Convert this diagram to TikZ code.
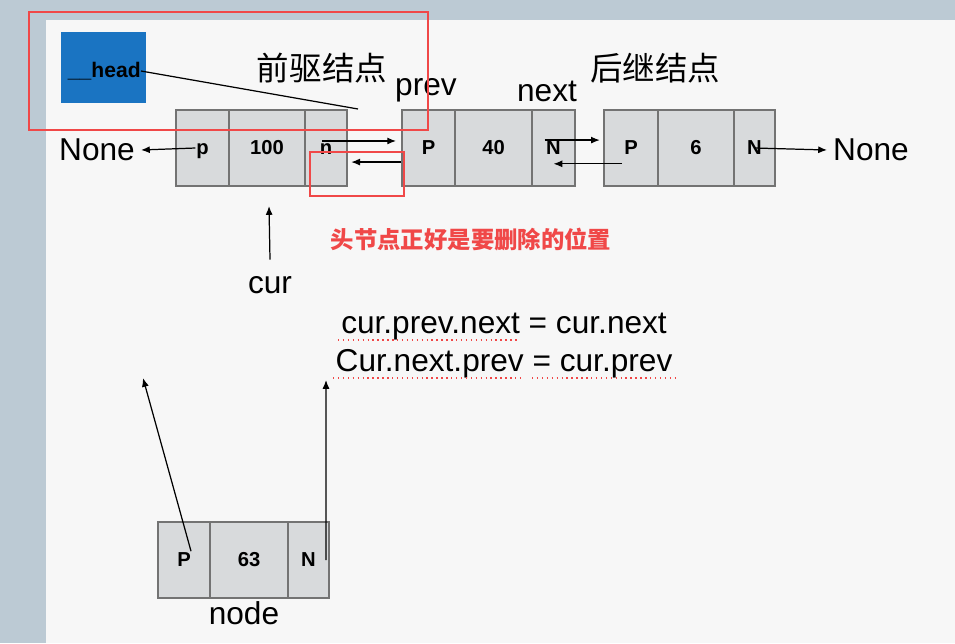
\documentclass[tikz,border=0pt]{standalone}
\usepackage{fontspec}
\setmainfont{Liberation Sans}
\newfontfamily\cjk{Noto Sans CJK SC}
\usetikzlibrary{arrows.meta,calc}
\definecolor{slide}{HTML}{F7F7F7}
\definecolor{frame}{HTML}{BCCAD4}
\definecolor{cellfill}{HTML}{D8DADC}
\definecolor{headblue}{HTML}{1A74C2}
\definecolor{redmark}{HTML}{F04848}
\tikzset{
  cell/.style={draw=black!55, fill=cellfill, line width=0.8pt, minimum height=1.52cm,
    inner sep=0pt, text height=1.4ex, text depth=0pt, font=\bfseries\fontsize{11.5}{13}\selectfont},
  ptr/.style={line width=0.7pt, -{Latex[length=5pt,width=4pt]}},
  lbl/.style={font=\fontsize{18}{21}\selectfont},
  title/.style={font=\cjk\fontsize{18.5}{21}\selectfont}
}
\begin{document}
\begin{tikzpicture}[x=0.02cm,y=-0.02cm]
\useasboundingbox (0,0) rectangle (955,643);
\fill[frame] (0,0) rectangle (955,643);
\fill[slide] (46,20) rectangle (955,643);
% head box
\node[fill=headblue, minimum width=1.7cm, minimum height=1.42cm, inner sep=0pt] (head) at (103.5,67.5) {};
\node[font=\bfseries\fontsize{12}{14}\selectfont, anchor=east, inner sep=0pt] (headtxt) at (141,71) {\_\_head};
% first node (cur)
\node[cell, minimum width=1.06cm] (p1) at (202.5,148) {p};
\node[cell, minimum width=1.52cm] (v1) at (267,148) {100};
\node[cell, minimum width=0.84cm] (n1) at (326,148) {n};
% second node
\node[cell, minimum width=1.06cm] (p2) at (428.5,148) {P};
\node[cell, minimum width=1.54cm] (v2) at (493.5,148) {40};
\node[cell, minimum width=0.86cm] (n2) at (553.5,148) {N};
% third node
\node[cell, minimum width=1.08cm] (p3) at (631,148) {P};
\node[cell, minimum width=1.52cm] (v3) at (696,148) {6};
\node[cell, minimum width=0.82cm] (n3) at (754.5,148) {N};
% new node
\node[cell, minimum width=1.04cm] (p4) at (184,560) {P};
\node[cell, minimum width=1.56cm] (v4) at (249,560) {63};
\node[cell, minimum width=0.82cm] (n4) at (308.5,560) {N};
% labels
\node[lbl] (none1) at (97,150) {None};
\node[lbl] (none2) at (871,150) {None};
\node[title] (pre) at (322,68) {前驱结点};
\node[title] (suc) at (655,68) {后继结点};
\node[lbl] (prev) at (426,90) {prev};
\node[lbl] (next) at (547,91) {next};
\node[lbl] (cur) at (270,285) {cur};
\node[lbl] (nodetxt) at (244,613) {node};
\node[font=\cjk\bfseries\fontsize{13.3}{15}\selectfont, text=redmark] (note) at (471,240) {头节点正好是要删除的位置};
\node[lbl] (eq1) at (504,327) {cur.prev.next = cur.next};
\node[lbl] (eq2) at (504,364) {Cur.next.prev = cur.prev};
\draw[redmark, dotted, line width=0.8pt] (338,340) -- (518,340);
\draw[redmark, dotted, line width=0.8pt] (333,378) -- (521,378);
\draw[redmark, dotted, line width=0.8pt] (532,378) -- (678,378);
% highlight boxes
\draw[redmark, line width=0.6pt] (29,12) rectangle (428,130);
\draw[redmark, line width=0.6pt] (310,152) rectangle (404,196);
% pointers
\coordinate (hend) at (358,109);
\draw[line width=0.7pt] (headtxt.east) -- (hend);
\draw[ptr] ([xshift=-4pt]p1.center) -- (none1.east);
\draw[ptr] ([yshift=4pt,xshift=-2pt]n1.center) -- ([yshift=4pt,xshift=-3pt]p2.west);
\draw[ptr] ([yshift=-8pt]p2.west) -- ([yshift=-8pt,xshift=2pt]n1.east);
\draw[ptr] ([yshift=4.5pt,xshift=-5pt]n2.center) -- ([yshift=4.5pt,xshift=-2pt]p3.west);
\draw[ptr] ([yshift=-9pt,xshift=-5pt]p3.center) -- ([yshift=-9pt]n2.center);
\draw[ptr] (n3.center) -- (none2.west);
\coordinate (curtip) at (269,206);
\draw[ptr] ([yshift=6pt]cur.north) -- (curtip);
\coordinate (ptip) at (143,378);
\draw[ptr] ([xshift=4pt,yshift=5pt]p4.center) -- (ptip);
\coordinate (ntip) at (326,380);
\draw[ptr] ([xshift=10pt]n4.center) -- (ntip);
\end{tikzpicture}
\end{document}
